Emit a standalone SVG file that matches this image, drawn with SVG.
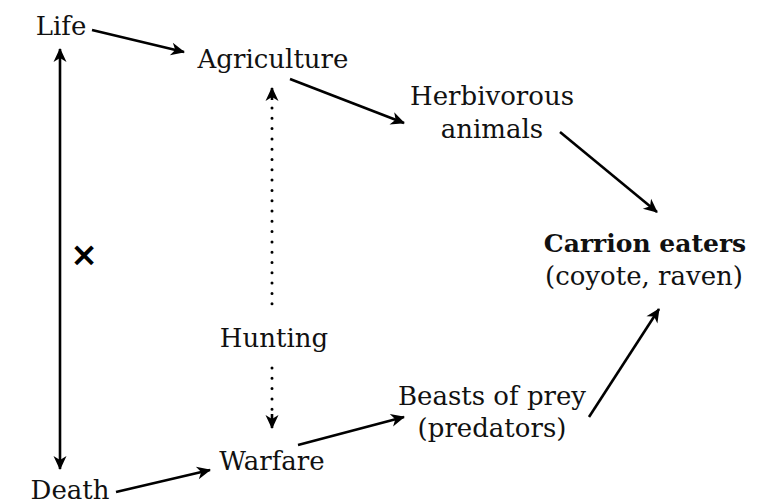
<svg xmlns="http://www.w3.org/2000/svg" width="759" height="504" viewBox="0 0 759 504">
  <style>
    .lbl { font-family: "DejaVu Serif", "Liberation Serif", serif; font-size: 26px; fill: #111; text-anchor: middle; }
    .bold { font-weight: bold; font-size: 25px; }
    .edge { stroke: #000; stroke-width: 2.6; fill: none; }
    .dots { stroke: #000; stroke-width: 3; fill: none; stroke-linecap: round; stroke-dasharray: 0 10.3; }
  </style>
  <defs>
    <marker id="head" viewBox="-15 -7 17 14" refX="0" refY="0" markerWidth="17" markerHeight="14" markerUnits="userSpaceOnUse" orient="auto-start-reverse">
      <path d="M1,0 L-13,-6.5 L-9,0 L-13,6.5 Z" fill="#000"/>
    </marker>
  </defs>
  <rect width="759" height="504" fill="#fff"/>

  <g id="connectors">
    <line class="edge" x1="92" y1="30" x2="184" y2="52" marker-end="url(#head)"/>
    <line class="edge" x1="290" y1="79" x2="404" y2="123" marker-end="url(#head)"/>
    <line class="edge" x1="560" y1="132" x2="657" y2="212" marker-end="url(#head)"/>
    <line class="edge" x1="589" y1="417" x2="659" y2="309" marker-end="url(#head)"/>
    <line class="edge" x1="298" y1="445" x2="404" y2="417" marker-end="url(#head)"/>
    <line class="edge" x1="116" y1="492" x2="210" y2="470" marker-end="url(#head)"/>
    <line class="edge" x1="60" y1="49" x2="60" y2="469" marker-start="url(#head)" marker-end="url(#head)"/>
    <line class="edge" x1="272" y1="100" x2="272" y2="88" marker-end="url(#head)"/>
    <line class="dots" x1="272" y1="108" x2="272" y2="307"/>
    <line class="dots" x1="272" y1="368" x2="272" y2="410"/>
    <line class="edge" x1="272" y1="414" x2="272" y2="428" marker-end="url(#head)"/>
    <text x="84" y="266" font-family="DejaVu Sans, sans-serif" font-size="33" font-weight="bold" text-anchor="middle" fill="#000">×</text>
  </g>

  <g id="life"><text class="lbl" x="61" y="35">Life</text></g>
  <g id="agriculture"><text class="lbl" x="273" y="68">Agriculture</text></g>
  <g id="herbivorous"><text class="lbl" x="492" y="105">Herbivorous</text><text class="lbl" x="492" y="138">animals</text></g>
  <g id="carrion"><text class="lbl bold" x="645" y="252">Carrion eaters</text><text class="lbl" x="644" y="285">(coyote, raven)</text></g>
  <g id="hunting"><text class="lbl" x="274" y="347">Hunting</text></g>
  <g id="warfare"><text class="lbl" x="272" y="470">Warfare</text></g>
  <g id="death"><text class="lbl" x="70" y="499">Death</text></g>
  <g id="beasts"><text class="lbl" x="492" y="405">Beasts of prey</text><text class="lbl" x="492" y="437">(predators)</text></g>
</svg>
